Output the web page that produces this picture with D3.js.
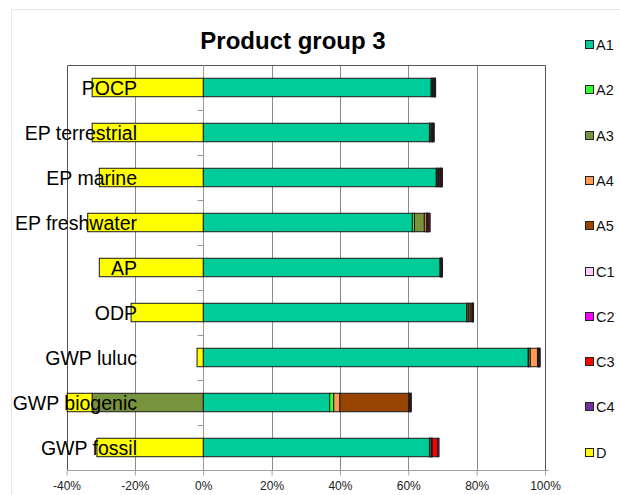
<!DOCTYPE html>
<html>
<head>
<meta charset="utf-8">
<script src="https://cdn.jsdelivr.net/npm/d3@7"></script>
<style>
  html, body { margin: 0; padding: 0; background: #fff; }
  svg { display: block; font-family: "Liberation Sans", Arial, sans-serif; }
</style>
</head>
<body>
<svg id="chart" width="620" height="495"></svg>
<script>
// Impact categories, top to bottom
const categories = ["POCP", "EP terrestrial", "EP marine", "EP freshwater", "AP",
                    "ODP", "GWP luluc", "GWP biogenic", "GWP fossil"];

// Life-cycle modules (stack order) and their share per category, in %
const modules = ["A1", "A2", "A3", "A4", "A5", "C1", "C2", "C3", "C4", "D"];
const A1 = [66.7, 66.2, 68.2, 61.2, 69.3, 77.1, 95.1, 37.0, 66.2];
const A2 = [0.2, 0.1, 0.2, 0.6, 0.1, 0.1, 0.1, 1.2, 0.1];
const A3 = [0.2, 0.1, 0.3, 2.9, 0.1, 0.5, 0.5, -32.5, 0.1];
const A4 = [0.2, 0.3, 0.2, 0.6, 0.1, 0.4, 2.1, 1.8, 0.4];
const A5 = [0.3, 0.3, 0.4, 0.3, 0.1, 0.6, 0.3, 20.2, 0.1];
const C1 = [0.05, 0.05, 0.1, 0.05, 0.02, 0.05, 0.05, 0.05, 0.05];
const C2 = [0.05, 0.05, 0.1, 0.05, 0.02, 0.05, 0.05, 0.05, 0.05];
const C3 = [0.1, 0.3, 0.3, 0.4, 0.16, 0.2, 0.2, 0.3, 1.6];
const C4 = [0.2, 0.2, 0.2, 0.3, 0.1, 0.1, 0.2, 0.3, 0.4];
const D  = [-32.5, -32.5, -30.4, -33.8, -30.4, -21.1, -1.8, -7.3, -31.1];

const colors = ["#00CC99", "#33FF33", "#77933C", "#FF9955", "#994400",
                "#FFCCFF", "#FF00FF", "#FF0000", "#7030A0", "#FFFF00"];

const tickValues = [-40, -20, 0, 20, 40, 60, 80, 100];
const tickLabels = ["-40%", "-20%", "0%", "20%", "40%", "60%", "80%", "100%"];

const title = "Product group 3";

// Rows for the stack generator
const seriesValues = [A1, A2, A3, A4, A5, C1, C2, C3, C4, D];
const rows = categories.map((c, i) => {
  const r = { category: c };
  modules.forEach((m, k) => { r[m] = seriesValues[k][i]; });
  return r;
});

const svg = d3.select("#chart");

const plot = { left: 66.5, right: 545, top: 65, bottom: 470 };

const x = d3.scaleLinear().domain([-40, 100]).range([plot.left, plot.right]);
const y = d3.scaleBand().domain(categories).range([plot.top, plot.bottom])
  .paddingInner(0.59).paddingOuter(0.295);
const color = d3.scaleOrdinal().domain(modules).range(colors);

const stack = d3.stack().keys(modules).offset(d3.stackOffsetDiverging);
const stacked = stack(rows);

// Outer chart frame
svg.append("rect")
  .attr("x", 11.5).attr("y", 9.5).attr("width", 640).attr("height", 520)
  .attr("fill", "none").attr("stroke", "#e8e8e8");

// Vertical gridlines
svg.append("g")
  .selectAll("line")
  .data(tickValues.filter(v => v !== -40 && v !== 100 && v !== 0))
  .join("line")
  .attr("x1", d => Math.round(x(d)) + 0.5).attr("x2", d => Math.round(x(d)) + 0.5)
  .attr("y1", plot.top).attr("y2", plot.bottom)
  .attr("stroke", "#8a8a8a").attr("stroke-width", 1);

// Plot border (top, left, right)
const bx0 = Math.round(x(-40)) + 0.5, bx1 = Math.round(x(100)) + 0.5;
svg.append("path")
  .attr("d", `M${bx0},${plot.bottom}V${plot.top + 0.5}H${bx1}V${plot.bottom}`)
  .attr("fill", "none").attr("stroke", "#555").attr("stroke-width", 1);

// Bottom value axis
const xAxis = d3.axisBottom(x)
  .tickValues(tickValues)
  .tickFormat((d, i) => tickLabels[i])
  .tickSize(5).tickSizeOuter(0).tickPadding(6);
const gx = svg.append("g")
  .attr("transform", `translate(0,${plot.bottom + 0.5})`)
  .call(xAxis);
gx.select(".domain").attr("stroke", "#a0a0a0").attr("d", `M${bx0},0H${bx1 + 3}`);
gx.selectAll(".tick line").attr("stroke", "#a0a0a0");
gx.selectAll(".tick text")
  .attr("fill", "#222")
  .style("font-family", "'Liberation Sans', Arial, sans-serif")
  .style("font-size", "12px");

// Category axis on the zero line, ticks at band boundaries
const zx = Math.round(x(0)) + 0.5;
const gy = svg.append("g");
gy.append("line")
  .attr("x1", zx).attr("x2", zx).attr("y1", plot.top).attr("y2", plot.bottom)
  .attr("stroke", "#9a9a9a");
gy.selectAll("line.tk")
  .data(d3.range(1, categories.length))
  .join("line").attr("class", "tk")
  .attr("x1", zx - 6).attr("x2", zx)
  .attr("y1", i => Math.round(plot.top + i * y.step()) + 0.5)
  .attr("y2", i => Math.round(plot.top + i * y.step()) + 0.5)
  .attr("stroke", "#9a9a9a");

// Stacked bars
svg.append("g")
  .selectAll("g")
  .data(stacked)
  .join("g")
  .attr("fill", d => color(d.key))
  .selectAll("rect")
  .data(d => d)
  .join("rect")
  .attr("x", d => x(Math.min(d[0], d[1])))
  .attr("width", d => Math.abs(x(d[1]) - x(d[0])))
  .attr("y", d => y(d.data.category))
  .attr("height", y.bandwidth())
  .attr("stroke", "#1a1a1a").attr("stroke-width", 1);

// Category labels (drawn over the bars)
svg.append("g")
  .selectAll("text")
  .data(categories)
  .join("text")
  .attr("x", 137)
  .attr("y", d => y(d) + y.bandwidth() / 2 + 7)
  .attr("text-anchor", "end")
  .attr("fill", "#000")
  .style("font-size", "19.5px")
  .text(d => d);

// Title
svg.append("text")
  .attr("x", 293).attr("y", 49)
  .attr("text-anchor", "middle")
  .style("font-size", "24px").style("font-weight", "bold")
  .attr("fill", "#000")
  .text(title);

// Legend
const legend = svg.append("g").selectAll("g")
  .data(modules)
  .join("g")
  .attr("transform", (d, i) => `translate(585.5,${Math.round(45 + i * 45.3)})`);
legend.append("rect")
  .attr("x", 0).attr("y", -4.5).attr("width", 8).attr("height", 8)
  .attr("fill", d => color(d)).attr("stroke", "#222");
legend.append("text")
  .attr("x", 10.5).attr("y", 5)
  .attr("fill", "#111")
  .style("font-size", "14.5px")
  .text(d => d);
</script>
</body>
</html>
